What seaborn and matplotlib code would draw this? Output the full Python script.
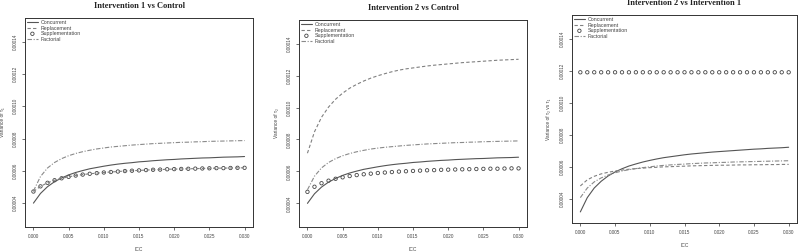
import numpy as np
import pandas as pd
import matplotlib
matplotlib.use("Agg")
import matplotlib.pyplot as plt
import seaborn as sns
from matplotlib.ticker import FuncFormatter

# ICC grid (x axis)
icc = [0.000, 0.001, 0.002, 0.003, 0.004, 0.005, 0.006, 0.007, 0.008, 0.009,
       0.010, 0.011, 0.012, 0.013, 0.014, 0.015, 0.016, 0.017, 0.018, 0.019,
       0.020, 0.021, 0.022, 0.023, 0.024, 0.025, 0.026, 0.027, 0.028, 0.029, 0.030]

# variances, in units of 1e-6
SCALE = 1e-6

# Intervention 1 vs Control
concurrent_1 = [40.0, 46.0, 50.2, 53.3, 55.6, 57.5, 59.0, 60.2, 61.3, 62.1,
                62.9, 63.6, 64.2, 64.7, 65.1, 65.6, 65.9, 66.3, 66.6, 66.9,
                67.1, 67.4, 67.6, 67.8, 68.0, 68.1, 68.3, 68.5, 68.6, 68.7, 68.9]
replacement_1 = [47.2, 50.4, 52.6, 54.2, 55.4, 56.3, 57.1, 57.7, 58.2, 58.6,
                 59.0, 59.3, 59.6, 59.9, 60.1, 60.3, 60.5, 60.7, 60.8, 61.0,
                 61.1, 61.2, 61.3, 61.4, 61.5, 61.6, 61.7, 61.7, 61.8, 61.9, 61.9]
supplementation_1 = [47.2, 50.4, 52.6, 54.2, 55.4, 56.3, 57.1, 57.7, 58.2, 58.6,
                     59.0, 59.3, 59.6, 59.9, 60.1, 60.3, 60.5, 60.7, 60.8, 61.0,
                     61.1, 61.2, 61.3, 61.4, 61.5, 61.6, 61.7, 61.7, 61.8, 61.9, 61.9]
factorial_1 = [47.5, 56.5, 61.8, 65.2, 67.6, 69.4, 70.8, 71.9, 72.8, 73.6,
               74.2, 74.8, 75.2, 75.6, 76.0, 76.3, 76.6, 76.9, 77.1, 77.3,
               77.5, 77.7, 77.8, 78.0, 78.1, 78.3, 78.4, 78.5, 78.6, 78.7, 78.8]

# Intervention 2 vs Control
concurrent_2 = [40.0, 46.0, 50.2, 53.3, 55.6, 57.5, 59.0, 60.2, 61.3, 62.1,
                62.9, 63.6, 64.2, 64.7, 65.1, 65.6, 65.9, 66.3, 66.6, 66.9,
                67.1, 67.4, 67.6, 67.8, 68.0, 68.1, 68.3, 68.5, 68.6, 68.7, 68.9]
replacement_2 = [71.4, 84.8, 93.9, 100.3, 105.2, 109.0, 112.1, 114.5, 116.6, 118.4,
                 119.9, 121.2, 122.4, 123.4, 124.2, 124.8, 125.4, 126.0, 126.5, 126.9,
                 127.3, 127.7, 128.1, 128.4, 128.7, 129.0, 129.3, 129.6, 129.8, 130.0, 130.2]
supplementation_2 = [47.2, 50.4, 52.6, 54.2, 55.4, 56.3, 57.1, 57.7, 58.2, 58.6,
                     59.0, 59.3, 59.6, 59.9, 60.1, 60.3, 60.5, 60.7, 60.8, 61.0,
                     61.1, 61.2, 61.3, 61.4, 61.5, 61.6, 61.7, 61.7, 61.8, 61.9, 61.9]
factorial_2 = [48.5, 57.0, 62.2, 65.6, 68.0, 69.8, 71.2, 72.3, 73.2, 74.0,
               74.6, 75.1, 75.5, 75.9, 76.3, 76.6, 76.9, 77.2, 77.4, 77.6,
               77.8, 78.0, 78.1, 78.3, 78.4, 78.6, 78.7, 78.8, 78.9, 79.0, 79.1]

# Intervention 2 vs Intervention 1
concurrent_3 = [32.1, 41.0, 47.0, 51.2, 54.5, 57.0, 59.0, 60.7, 62.0, 63.2,
                64.2, 65.1, 65.9, 66.5, 67.1, 67.7, 68.2, 68.6, 69.0, 69.4,
                69.7, 70.0, 70.3, 70.6, 70.9, 71.2, 71.4, 71.7, 71.9, 72.1, 72.4]
replacement_3 = [48.3, 52.1, 54.3, 55.8, 56.8, 57.6, 58.2, 58.7, 59.1, 59.4,
                 59.7, 59.9, 60.2, 60.3, 60.5, 60.6, 60.8, 60.9, 61.0, 61.1,
                 61.2, 61.2, 61.3, 61.4, 61.4, 61.5, 61.5, 61.6, 61.6, 61.7, 61.7]
supplementation_3 = [119.1] * 31
factorial_3 = [41.0, 47.0, 50.8, 53.3, 55.1, 56.5, 57.6, 58.4, 59.1, 59.7,
               60.2, 60.7, 61.1, 61.4, 61.7, 61.9, 62.2, 62.4, 62.6, 62.7,
               62.9, 63.0, 63.2, 63.3, 63.4, 63.5, 63.6, 63.7, 63.8, 63.9, 64.0]

titles = ["Intervention 1 vs Control", "Intervention 2 vs Control",
          "Intervention 2 vs Intervention 1"]
ylabels = ["Variance of τ₁", "Variance of τ₂", "Variance of τ₂ vs τ₁"]
panels = [
    (concurrent_1, replacement_1, supplementation_1, factorial_1),
    (concurrent_2, replacement_2, supplementation_2, factorial_2),
    (concurrent_3, replacement_3, supplementation_3, factorial_3),
]
yticks = [0.00004, 0.00006, 0.00008, 0.00010, 0.00012, 0.00014]
xticks = [0.000, 0.005, 0.010, 0.015, 0.020, 0.025, 0.030]

sns.set_style("ticks")
plt.rcParams['font.family'] = ['Liberation Sans', 'DejaVu Sans']

fig = plt.figure(figsize=(8, 2.52), dpi=100)
rects = [
    [25 / 800, 25 / 252, 228 / 800, 209 / 252],
    [299 / 800, 25 / 252, 228 / 800, 207 / 252],
    [572 / 800, 29 / 252, 225 / 800, 208 / 252],
]
ylabel_x = [-0.088, -0.088, -0.094]

for rect, title, ylab, lx, (conc, repl, supp, fact) in zip(rects, titles, ylabels, ylabel_x, panels):
    ax = fig.add_axes(rect)
    df = pd.DataFrame({
        'icc': icc,
        'conc': np.array(conc) * SCALE,
        'repl': np.array(repl) * SCALE,
        'supp': np.array(supp) * SCALE,
        'fact': np.array(fact) * SCALE,
    })
    sns.lineplot(data=df, x='icc', y='conc', ax=ax, color='#555555',
                 linewidth=0.8, label='Concurrent')
    sns.lineplot(data=df, x='icc', y='repl', ax=ax, color='#808080',
                 linewidth=0.8, label='Replacement')
    ax.lines[-1].set_dashes([3, 2])
    sns.scatterplot(data=df, x='icc', y='supp', ax=ax, marker='o', s=6,
                    facecolor='none', edgecolor='#444444', linewidth=0.6,
                    label='Supplementation')
    sns.lineplot(data=df, x='icc', y='fact', ax=ax, color='#8a8a8a',
                 linewidth=0.8, label='Factorial')
    ax.lines[-1].set_dashes([4, 1.5, 1, 1.5])

    ax.set_xlim(-0.0012, 0.0312)
    ax.set_ylim(0.0000252, 0.0001548)
    ax.set_xticks(xticks)
    ax.set_yticks(yticks)
    ax.xaxis.set_major_formatter(FuncFormatter(lambda v, p: f"{v:.3f}"))
    ax.yaxis.set_major_formatter(FuncFormatter(lambda v, p: f"{v:.5f}"))
    ax.tick_params(axis='both', labelsize=3.3, length=2, width=0.5,
                   color='#333333', labelcolor='#444444', pad=3)
    plt.setp(ax.get_yticklabels(), rotation=90, va='center')
    for sp in ax.spines.values():
        sp.set_color('#333333')
        sp.set_linewidth(0.7)
    ax.set_xlabel('ICC', fontsize=3.5, color='#444444', labelpad=6)
    ax.set_ylabel(ylab, fontsize=3.5, color='#444444')
    ax.yaxis.set_label_coords(lx, 0.5)
    ax.set_title(title, fontsize=6, family=['Liberation Serif'],
                 fontweight='bold', color='#222222', pad=7)

    handles, labels = ax.get_legend_handles_labels()
    ax.legend(handles, labels, loc='upper left', frameon=False, fontsize=3.8,
              handlelength=2.0, handletextpad=0.6, labelspacing=0.1,
              borderaxespad=0.2, borderpad=0.2, labelcolor='#444444')

fig.savefig('out.png', dpi=100)
